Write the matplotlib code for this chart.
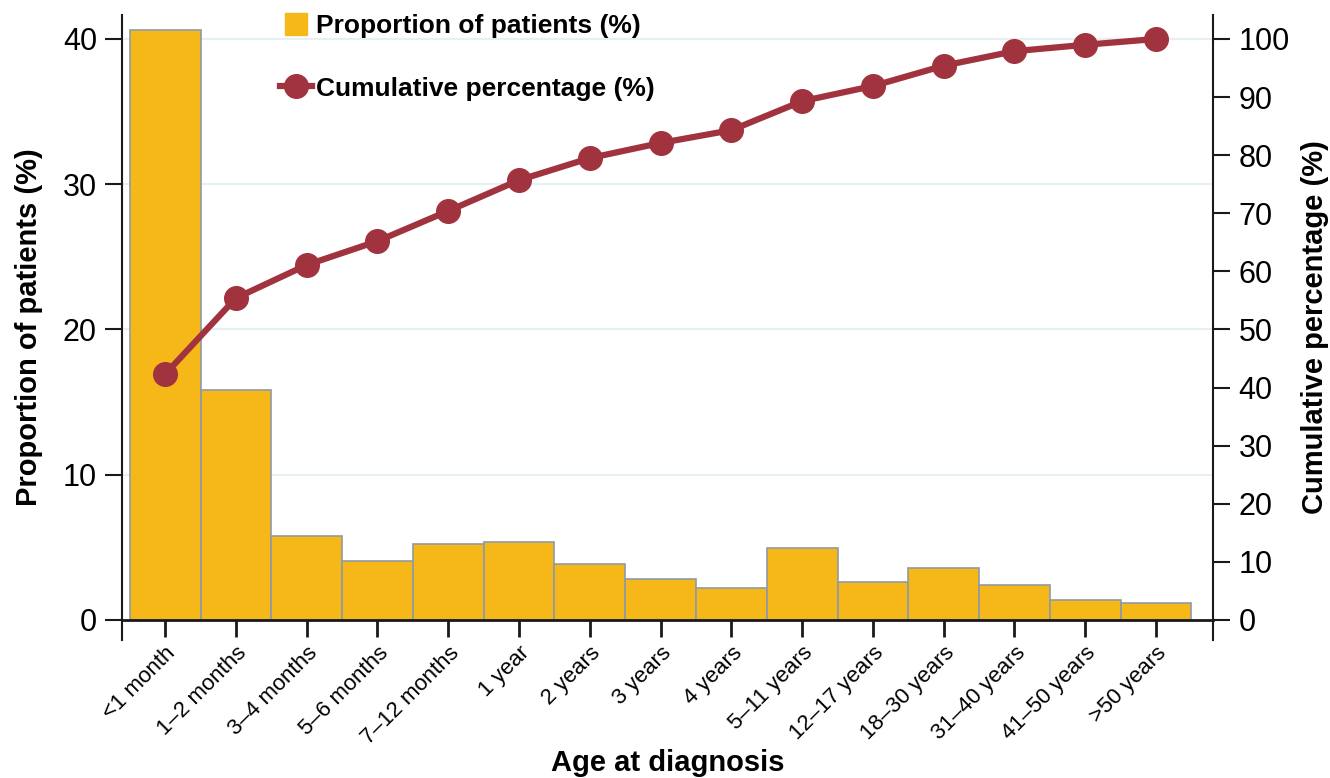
import numpy as np
import matplotlib.pyplot as plt
from matplotlib.lines import Line2D

plt.rcParams['font.family'] = ['Liberation Sans', 'DejaVu Sans']

ages = ['<1 month', '1\u20132 months', '3\u20134 months', '5\u20136 months', '7\u201312 months',
        '1 year', '2 years', '3 years', '4 years', '5\u201311 years', '12\u201317 years',
        '18\u201330 years', '31\u201340 years', '41\u201350 years', '>50 years']
proportion = [40.6, 15.8, 5.8, 4.06, 5.23, 5.37, 3.86, 2.82, 2.2, 4.96, 2.62, 3.58, 2.41, 1.38, 1.17]
cumulative = [42.3, 55.4, 61.1, 65.2, 70.4, 75.7, 79.5, 82.1, 84.3, 89.3, 91.9, 95.4, 97.9, 99.0, 100.0]

bar_col = '#F6B819'
line_col = '#A1333F'
dark = '#1a1a1a'

fig = plt.figure(figsize=(13.3, 7.78), dpi=100)
ax = fig.add_axes([0.0917, 0.1774, 0.8206, 0.8033])
ax2 = ax.twinx()

x = np.arange(len(ages))
for yv in [10, 20, 30, 40]:
    ax.axhline(yv, color='#e6f0f4', lw=1.5, zorder=0)
ax.bar(x, proportion, width=1.0, color=bar_col, edgecolor='#8d9ba6', linewidth=1.2, zorder=2)
ax2.plot(x, cumulative, color=line_col, lw=4.5, marker='o', markersize=17, zorder=3)

ax.set_xlim(-0.61, 14.81)
ax.set_ylim(-1.38, 41.65)
ax2.set_ylim(-1.38 * 2.5, 41.65 * 2.5)

for a in (ax, ax2):
    a.spines['top'].set_visible(False)
    a.spines['bottom'].set_visible(False)
    a.spines['left'].set_color(dark)
    a.spines['right'].set_color(dark)
    a.spines['left'].set_linewidth(1.5)
    a.spines['right'].set_linewidth(1.5)
ax.spines['bottom'].set_visible(True)
ax.spines['bottom'].set_position(('data', 0))
ax.spines['bottom'].set_color(dark)
ax.spines['bottom'].set_linewidth(2)
ax.spines['bottom'].set_zorder(4)
ax.spines['right'].set_visible(False)
ax2.spines['left'].set_visible(False)

ax.tick_params(axis='y', labelsize=22, length=12, width=1.5, color=dark, pad=6)
ax2.tick_params(axis='y', labelsize=22, length=12, width=1.5, color=dark, pad=6)
ax.tick_params(axis='x', length=12, width=2, color=dark, pad=4)

ax.set_yticks([0, 10, 20, 30, 40])
ax2.set_yticks(range(0, 101, 10))
ax.set_xticks(x)
ax.set_xticklabels(ages, fontsize=16)
plt.setp(ax.get_xticklabels(), rotation=45, ha='right', rotation_mode='anchor')

ax.set_ylabel('Proportion of patients (%)', fontsize=21, fontweight='bold', labelpad=14)
ax2.set_ylabel('Cumulative percentage (%)', fontsize=21, fontweight='bold', labelpad=8)
ax.set_xlabel('Age at diagnosis', fontsize=21, fontweight='bold', labelpad=1)

handles = [Line2D([], [], marker='s', color='none', markerfacecolor=bar_col, markeredgecolor=bar_col, markersize=16),
           Line2D([], [], color=line_col, lw=4.5, marker='o', markersize=17)]
fig.legend(handles, ['Proportion of patients (%)', 'Cumulative percentage (%)'],
           loc='upper left', bbox_to_anchor=(0.193, 1.012), frameon=False,
           prop={'size': 19, 'weight': 'bold'}, handlelength=1.2, handletextpad=0.15,
           labelspacing=1.45)

ax.set_zorder(ax2.get_zorder() - 1)
ax.patch.set_visible(False)
ax2.patch.set_visible(False)

fig.savefig('out.png', dpi=100)
